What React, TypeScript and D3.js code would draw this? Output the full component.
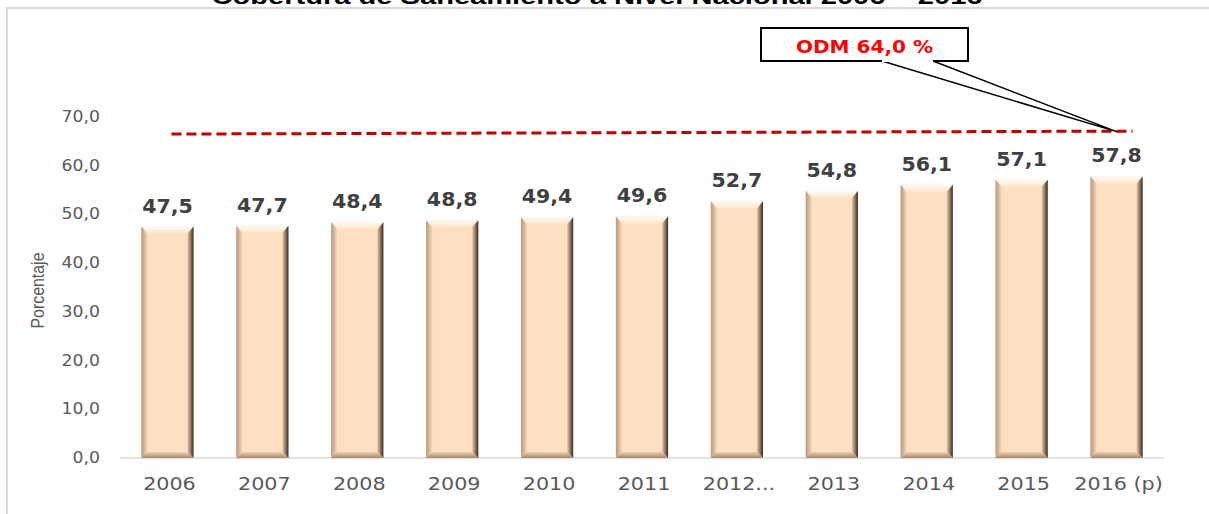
import React from 'react';
import * as d3 from 'd3';

// chart values
const years = ['2006', '2007', '2008', '2009', '2010', '2011', '2012...', '2013', '2014', '2015', '2016 (p)'];
const coverage = [47.5, 47.7, 48.4, 48.8, 49.4, 49.6, 52.7, 54.8, 56.1, 57.1, 57.8];
const yTicks = [0, 10, 20, 30, 40, 50, 60, 70];
const odmLevel = [66.5, 67.1]; // dashed target line, drawn slightly tilted in the source
const odmText = 'ODM 64,0 %';
const title = 'Cobertura de Saneamiento a Nivel Nacional 2006 – 2016';
const yTitle = 'Porcentaje';

const W = 1209;
const H = 514;
const margin = { top: 117, right: 45, bottom: 56, left: 120 };

const fmt = (v: number) => d3.format('.1f')(v).replace('.', ',');

const Bar = ({ x, y, w, h }: { x: number; y: number; w: number; h: number }) => {
  const b = 6;
  const r = x + w;
  const bt = y + h;
  return (
    <g>
      <rect x={x} y={y} width={w} height={h} fill="#fde0c2" />
      <polygon points={`${x},${y} ${r},${y} ${r - b},${y + b + 1} ${x + b},${y + b + 1}`} fill="url(#bevTop)" />
      <polygon points={`${x},${y} ${x + b},${y + b + 1} ${x + b},${bt - b} ${x},${bt}`} fill="url(#bevLeft)" />
      <polygon points={`${r},${y} ${r},${bt} ${r - b},${bt - b} ${r - b},${y + b + 1}`} fill="url(#bevRight)" />
      <polygon points={`${x},${bt} ${x + b},${bt - b} ${r - b},${bt - b} ${r},${bt}`} fill="url(#bevBottom)" />
    </g>
  );
};

export default function App() {
  const x = d3.scaleBand<string>()
    .domain(years)
    .range([margin.left, W - margin.right])
    .paddingInner(0.45)
    .paddingOuter(0.225);
  const y = d3.scaleLinear().domain([0, 70]).range([H - margin.bottom, margin.top]);
  const bw = x.bandwidth();
  const cx = (k: string) => (x(k) ?? 0) + bw / 2;

  const first = years[0];
  const last = years[years.length - 1];
  const lx1 = cx(first) + 4;
  const lx2 = cx(last) + 16;
  const tipX = cx(last);
  const tipY = y(odmLevel[1]) + 0.5;

  const box = { x: 761, y: 28, w: 207, h: 33 };

  return (
    <svg width={W} height={H} style={{ position: 'absolute', left: 0, top: 0 }}>
      <defs>
        <linearGradient id="bevTop" x1="0" y1="0" x2="0" y2="1">
          <stop offset="0" stopColor="#fffaf2" />
          <stop offset="1" stopColor="#fde6cc" />
        </linearGradient>
        <linearGradient id="bevLeft" x1="0" y1="0" x2="1" y2="0">
          <stop offset="0" stopColor="#b9987b" />
          <stop offset="1" stopColor="#f5d6b6" />
        </linearGradient>
        <linearGradient id="bevRight" x1="0" y1="0" x2="1" y2="0">
          <stop offset="0" stopColor="#e6c4a2" />
          <stop offset="0.55" stopColor="#8a735e" />
          <stop offset="1" stopColor="#342a22" />
        </linearGradient>
        <linearGradient id="bevBottom" x1="0" y1="0" x2="0" y2="1">
          <stop offset="0" stopColor="#f0d0b0" />
          <stop offset="1" stopColor="#a88668" />
        </linearGradient>
      </defs>

      <rect x={7} y={8} width={1300} height={700} fill="white" stroke="#d9d9d9" strokeWidth={2} />

      <text
        x={597}
        y={4}
        textAnchor="middle"
        fontFamily="Liberation Sans, Arial, sans-serif"
        fontWeight="bold"
        fontSize={22}
        textLength={771}
        lengthAdjust="spacingAndGlyphs"
        fill="#000"
      >
        {title}
      </text>

      {yTicks.map(t => (
        <text
          key={t}
          transform={`translate(100,${y(t) + 5}) scale(1.15,1)`}
          textAnchor="end"
          fontFamily="DejaVu Sans, sans-serif"
          fontSize={15}
          fill="#595959"
        >
          {fmt(t)}
        </text>
      ))}

      <text
        transform={`translate(44,${(y(0) + y(70)) / 2 + 3}) rotate(-90)`}
        textAnchor="middle"
        fontFamily="Liberation Sans, Arial, sans-serif"
        fontSize={18}
        textLength={76}
        lengthAdjust="spacingAndGlyphs"
        fill="#595959"
      >
        {yTitle}
      </text>

      <line x1={margin.left} x2={W - margin.right} y1={y(0)} y2={y(0)} stroke="#d9d9d9" strokeWidth={1.5} />

      {years.map((k, i) => (
        <g key={k}>
          <Bar x={x(k) ?? 0} y={y(coverage[i])} w={bw} h={y(0) - y(coverage[i])} />
          <text
            transform={`translate(${cx(k)},${y(coverage[i]) - 14}) scale(1.08,1)`}
            textAnchor="middle"
            fontFamily="DejaVu Sans, sans-serif"
            fontWeight="bold"
            fontSize={19}
            fill="#404040"
          >
            {fmt(coverage[i])}
          </text>
          <text
            transform={`translate(${cx(k) + 2},${y(0) + 32}) scale(1.15,1)`}
            textAnchor="middle"
            fontFamily="DejaVu Sans, sans-serif"
            fontSize={18}
            fill="#595959"
          >
            {k}
          </text>
        </g>
      ))}

      <line
        x1={lx1}
        x2={lx2}
        y1={y(odmLevel[0])}
        y2={y(odmLevel[1])}
        stroke="#c00000"
        strokeWidth={3}
        strokeDasharray="10,5"
      />

      <polygon
        points={`${box.x + 121},${box.y + box.h} ${tipX},${tipY} ${box.x + 172},${box.y + box.h}`}
        fill="white"
        stroke="#000"
        strokeWidth={1.5}
        strokeLinejoin="round"
      />
      <rect x={box.x} y={box.y} width={box.w} height={box.h} fill="white" stroke="#000" strokeWidth={2} />
      <line x1={box.x + 121} x2={box.x + 172} y1={box.y + box.h} y2={box.y + box.h} stroke="white" strokeWidth={2} />
      <text
        transform={`translate(${box.x + box.w / 2},${box.y + 25}) scale(1.18,1)`}
        textAnchor="middle"
        fontFamily="DejaVu Sans, sans-serif"
        fontWeight="bold"
        fontSize={17}
        fill="#ff0000"
      >
        {odmText}
      </text>
    </svg>
  );
}
